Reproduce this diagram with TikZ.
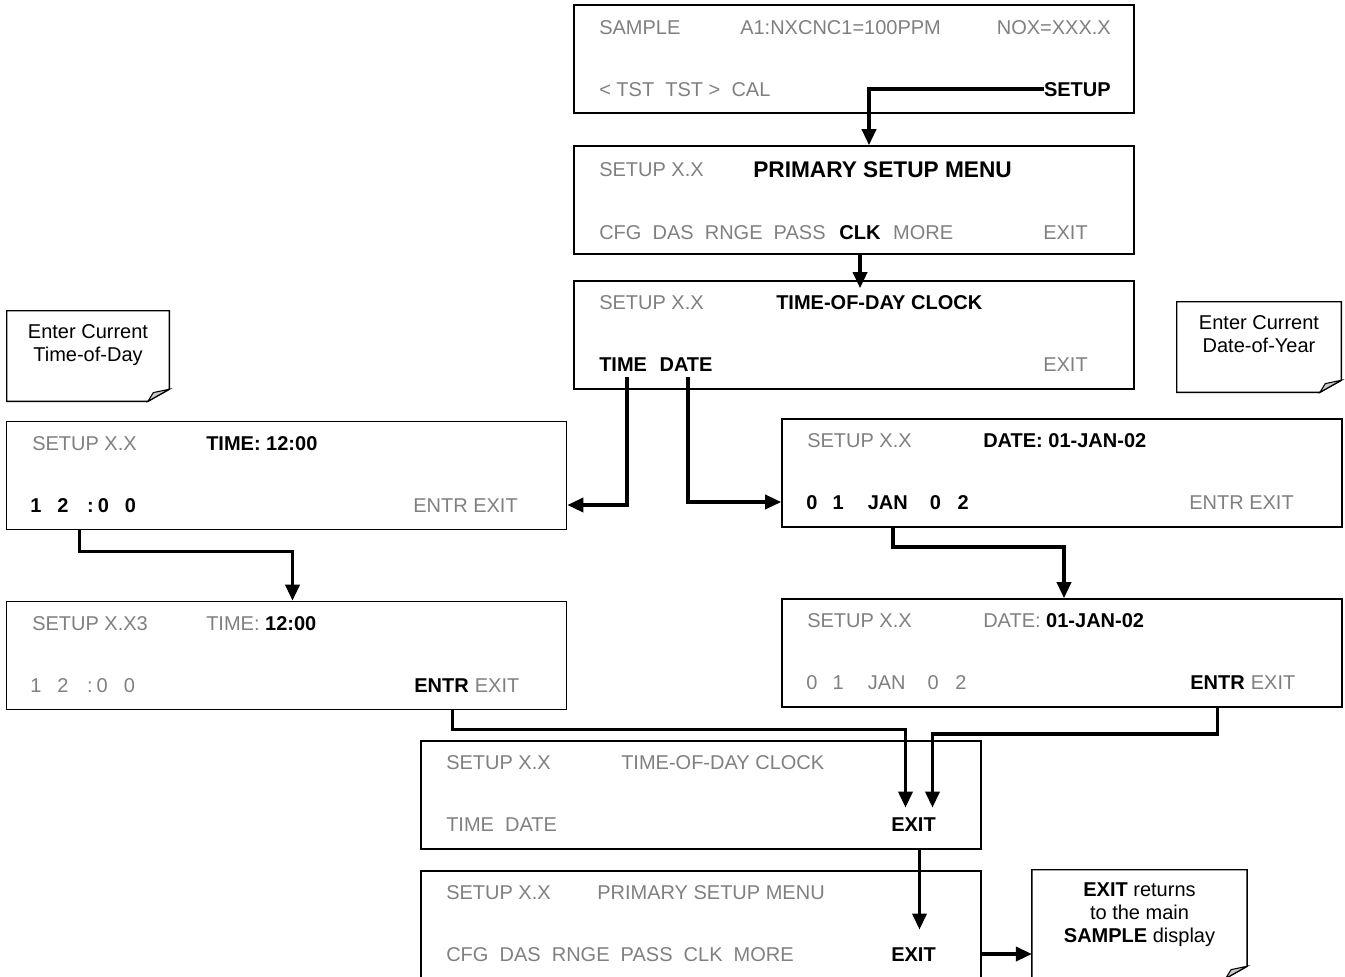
\documentclass[tikz,border=0pt]{standalone}
\usepackage{fontspec}
\setmainfont{Liberation Sans}
\usetikzlibrary{arrows.meta,positioning,calc}
\definecolor{dimtext}{RGB}{128,128,128}
\definecolor{foldgray}{RGB}{200,200,200}
\tikzset{
  panel/.style={draw, line width=1.2pt, minimum width=420pt, minimum height=81pt, inner sep=0pt},
  txt/.style={anchor=west, inner sep=0pt, text height=10.7pt, text depth=0pt},
  offkey/.style={text=dimtext},
  flow/.style={line width=2.6pt, -{Triangle[length=12pt,width=10.5pt]}},
  memo/.style={minimum height=67.5pt, inner sep=0pt},
  memotext/.style={anchor=north, align=center, inner sep=0pt, font=\fontsize{15}{17}\selectfont},
}
% note frame with a turned-up corner
\newcommand{\foldcorner}[1]{%
  \draw[line width=1.1pt] (#1.north west) -- (#1.north east) -- ([yshift=9pt]#1.south east)
    -- ([xshift=-16pt]#1.south east) -- (#1.south west) -- cycle;
  \draw[line width=0.8pt, fill=foldgray] ([xshift=-16pt]#1.south east)
    -- ([xshift=-12pt,yshift=6.5pt]#1.south east) -- ([yshift=9pt]#1.south east) -- cycle;}

\begin{document}
\begin{tikzpicture}[x=0.75pt, y=-0.75pt, font=\fontsize{15}{18}\selectfont]
\useasboundingbox (0,0) rectangle (1345,976);

% screens
\node[panel] (sample) at (854,59) {};
\node[panel] (menu) at (854,200) {};
\node[panel] (clock) at (854,335) {};
\node[panel] (timeset) at (286.5,475.5) {};
\node[panel] (timeconf) at (286.5,655.5) {};
\node[panel] (dateset) at (1062,473) {};
\node[panel] (dateconf) at (1062,653) {};
\node[panel] (backclock) at (701,795) {};
\node[panel] (backmenu) at (701,925) {};

% notes
\node[memo, minimum width=121.5pt] (timenote) at (88,356) {};
\node[memo, minimum width=123pt] (datenote) at (1259,347) {};
\node[memo, minimum width=161pt, minimum height=81pt] (exitnote) at (1139.5,924) {};
\foldcorner{timenote}
\foldcorner{datenote}
\foldcorner{exitnote}
\node[memotext] (timenotetxt) at ($(timenote.north)+(0,14)$) {Enter Current\\Time-of-Day};
\node[memotext] (datenotetxt) at ($(datenote.north)+(0,14)$) {Enter Current\\Date-of-Year};
\node[memotext] (exitnotetxt) at ($(exitnote.north)+(0,13)$) {\textbf{EXIT} returns\\to the main\\\textbf{SAMPLE} display};

% sample screen
\node[txt, offkey] (samplename) at (599,27) {SAMPLE};
\node[txt, offkey] (samplemsg) at (740,27) {A1:NXCNC1=100PPM};
\node[txt, offkey, anchor=east] (samplenox) at (1111,27) {NOX=XXX.X};
\node[txt, offkey] (samplekeys) at (599,89) {<\ TST\ \ TST\ >\ \ CAL};
\node[txt, anchor=east] (setupkey) at (1111,89) {\textbf{SETUP}};

% primary setup menu
\node[txt, offkey] (menuname) at (599,169) {SETUP X.X};
\node[txt, text height=12.2pt] (menutitle) at (753,169) {\fontsize{17}{20}\selectfont\bfseries PRIMARY SETUP MENU};
\node[txt, offkey] (menuopts) at (599,232) {CFG\ \ DAS\ \ RNGE\ \ PASS};
\node[txt, right=10pt of menuopts] (clkkey) {\textbf{CLK}};
\node[txt, offkey, right=9pt of clkkey] (morekey) {MORE};
\node[txt, offkey, anchor=east] (menuexitkey) at (1088,232) {EXIT};

% time-of-day clock menu
\node[txt, offkey] (clockname) at (599,302) {SETUP X.X};
\node[txt] (clocktitle) at (776,302) {\textbf{TIME-OF-DAY CLOCK}};
\node[txt] (timekey) at (599,364) {\textbf{TIME}};
\node[txt, right=9pt of timekey] (datekey) {\textbf{DATE}};
\node[txt, offkey, anchor=east] (clockexit) at (1088,364) {EXIT};

% time entry
\node[txt, offkey] (timesetname) at (32,443) {SETUP X.X};
\node[txt] (timesetval) at (206,443) {\textbf{TIME: 12:00}};
\node[txt] (timedigits) at (30,505) {\textbf{1\hspace{12pt}2\hspace{14pt}:\hspace{3pt}0\hspace{12pt}0}};
\node[txt, offkey, anchor=east] (timeentr) at (518,505) {ENTR EXIT};

\node[txt, offkey] (timeconfname) at (32,623) {SETUP X.X3};
\node[txt] (timeconfval) at (206,623) {{\color{dimtext}TIME:} \textbf{12:00}};
\node[txt, offkey] (timeconfdigits) at (30,685) {1\hspace{12pt}2\hspace{14pt}:\hspace{3pt}0\hspace{12pt}0};
\node[txt] (timeok) at (414,685) {\textbf{ENTR}};
\node[txt, offkey, right=4.2pt of timeok] (timeokexit) {EXIT};

% date entry
\node[txt, offkey] (datesetname) at (807,440) {SETUP X.X};
\node[txt] (datesetval) at (983,440) {\textbf{DATE: 01-JAN-02}};
\node[txt] (datedigits) at (806,502) {\textbf{0\hspace{11.5pt}1\hspace{18pt}JAN\hspace{16.5pt}0\hspace{12.5pt}2}};
\node[txt, offkey, anchor=east] (dateentr) at (1294,502) {ENTR EXIT};

\node[txt, offkey] (dateconfname) at (807,620) {SETUP X.X};
\node[txt] (dateconfval) at (983,620) {{\color{dimtext}DATE:} \textbf{01-JAN-02}};
\node[txt, offkey] (dateconfdigits) at (806,682) {0\hspace{11.5pt}1\hspace{18pt}JAN\hspace{16.5pt}0\hspace{12.5pt}2};
\node[txt] (dateok) at (1190,682) {\textbf{ENTR}};
\node[txt, offkey, right=4.2pt of dateok] (dateokexit) {EXIT};

% back to clock menu
\node[txt, offkey] (backclockname) at (446,762) {SETUP X.X};
\node[txt, offkey] (backclocktitle) at (621,762) {TIME-OF-DAY CLOCK};
\node[txt, offkey] (backclockopts) at (446,824) {TIME\ \ DATE};
\node[txt] (backexit) at (891,824) {\textbf{EXIT}};

% back to primary menu
\node[txt, offkey] (backmenuname) at (446,892) {SETUP X.X};
\node[txt, offkey] (backmenutitle) at (597,892) {PRIMARY SETUP MENU};
\node[txt, offkey] (backmenuopts) at (446,954) {CFG\ \ DAS\ \ RNGE\ \ PASS\ \ CLK\ \ MORE};
\node[txt] (menuexit) at (891,954) {\textbf{EXIT}};

% key presses
\draw[flow] (setupkey.west) -| ($(menu.north)+(15,0)$);
\draw[flow] (clkkey.south |- menu.south) -- ($(clkkey.south |- clock.north)+(0,8)$);
\draw[flow] ($(timekey.south)+(4,6)$) |- (timeset.east |- timeentr);
\draw[flow] ($(datekey.south)+(2,6)$) |- (dateset.west |- dateentr);
\draw[flow] ($(timeset.south west)+(74,0)$) -- ++(0,21) -| ($(timeconf.north)+(6,0)$);
\draw[flow] ($(dateset.south west)+(112,0)$) -- ++(0,19) -| ($(dateconf.north)+(2,0)$);
\draw[flow] ($(timeok.south |- timeconf.south)+(11,0)$) -- ++(0,19) -| ($(backexit.north)+(-8,-9)$);
\draw[flow] (dateok.south |- dateconf.south) -- ++(0,26) -| ($(backexit.north)+(19,-9)$);
\draw[flow] ($(backexit.south |- backclock.south)+(6,0)$) -- ($(menuexit.north)+(6,-17)$);
\draw[flow] (backmenu.east |- menuexit) -- (exitnote.west |- menuexit);
\end{tikzpicture}
\end{document}
